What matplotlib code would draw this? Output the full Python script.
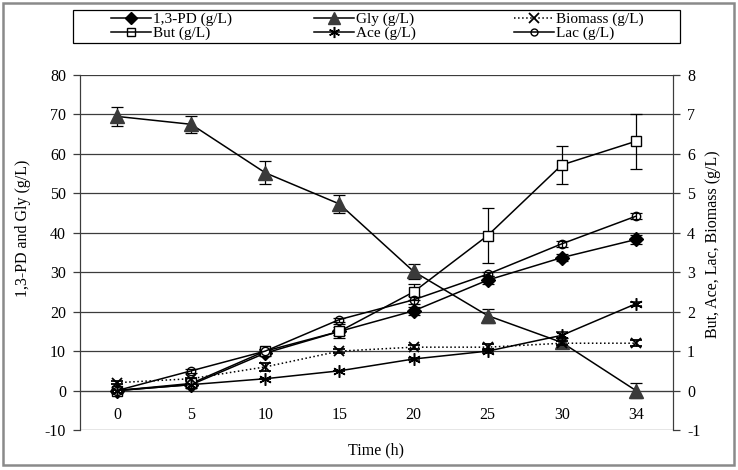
import matplotlib
matplotlib.use("Agg")
import matplotlib.pyplot as plt
from matplotlib.patches import Rectangle
from matplotlib.lines import Line2D
import numpy as np

plt.rcParams['font.family'] = ['Liberation Serif', 'DejaVu Serif']
plt.rcParams['font.size'] = 11.5
plt.rcParams['axes.unicode_minus'] = False

time_labels = ['0', '5', '10', '15', '20', '25', '30', '34']

# left axis (g/L)
pd_vals = [0, 1.5, 9.5, 15, 20.2, 28, 33.7, 38.3]
pd_err = [0.5, 0.8, 0.8, 1.8, 1.0, 1.0, 0.8, 1.2]
gly_vals = [69.5, 67.5, 55.2, 47.3, 30.2, 19.0, 12.2, 0]
gly_err = [2.4, 2.1, 2.9, 2.4, 2.0, 1.8, 1.0, 1.8]

# right axis (g/L)
but_vals = [0, 0.18, 1.0, 1.5, 2.5, 3.93, 5.72, 6.32]
but_err = [0.02, 0.05, 0.05, 0.1, 0.2, 0.69, 0.49, 0.7]
ace_vals = [0, 0.15, 0.3, 0.5, 0.8, 1.0, 1.4, 2.2]
ace_err = [0, 0, 0, 0, 0.03, 0.06, 0.08, 0.05]
lac_vals = [0, 0.5, 1.0, 1.8, 2.3, 2.95, 3.72, 4.42]
lac_err = [0, 0.05, 0.05, 0.05, 0.1, 0.05, 0.08, 0.08]
bio_vals = [0.2, 0.3, 0.6, 1.0, 1.1, 1.1, 1.2, 1.2]
bio_err = [0.03, 0.03, 0.1, 0.05, 0.05, 0.08, 0.05, 0.08]

W, H = 738, 470
fig = plt.figure(figsize=(W / 100, H / 100), dpi=100)
ax = fig.add_axes([80 / W, (H - 430) / H, (673 - 80) / W, (430 - 75) / H])
ax2 = ax.twinx()

x = np.arange(len(time_labels))
ax.set_xlim(-0.5, len(time_labels) - 0.5)
ax.set_ylim(-10, 80)
ax2.set_ylim(-1, 8)
ax.set_yticks(np.arange(-10, 81, 10))
ax2.set_yticks(np.arange(-1, 9, 1))

grid_c = '#3c3c3c'
for v in np.arange(-10, 81, 10):
    ax.axhline(v, color=grid_c, lw=0.9, zorder=0)

for a in (ax, ax2):
    a.spines['top'].set_visible(False)
    a.spines['bottom'].set_visible(False)
    a.spines['left'].set_color(grid_c)
    a.spines['right'].set_color(grid_c)
    a.tick_params(axis='y', direction='out', length=5, width=0.9, color=grid_c)
ax.tick_params(axis='y', pad=5)
ax2.tick_params(axis='y', pad=5)

ax.spines['bottom'].set_visible(True)
ax.spines['bottom'].set_position(('data', 0))
ax.spines['bottom'].set_color(grid_c)
ax.set_xticks(np.arange(-0.5, len(time_labels), 1.0))
ax.set_xticklabels([])
ax.set_xticks(x, minor=True)
ax.set_xticklabels(time_labels, minor=True)
ax.tick_params(axis='x', which='major', direction='out', length=6, width=0.9, color=grid_c)
ax.tick_params(axis='x', which='minor', length=0, pad=12)
ax2.set_xticks([])

eb = dict(ecolor='black', elinewidth=0.9, capsize=4, capthick=0.9, color='black', lw=1.1)

ax.errorbar(x, pd_vals, yerr=pd_err, marker='D', ms=7, mfc='black', mec='black',
            label='1,3-PD (g/L)', zorder=4, **eb)
ax.errorbar(x, gly_vals, yerr=gly_err, marker='^', ms=10, mfc='#3a3a3a', mec='#3a3a3a',
            label='Gly (g/L)', zorder=4, **eb)

ax2.errorbar(x, but_vals, yerr=but_err, marker='s', ms=7, mfc='white', mec='black',
             label='But (g/L)', zorder=4, **eb)
ax2.errorbar(x, ace_vals, yerr=ace_err, marker=(6, 2, 0), ms=9, mec='black', mew=1.1,
             label='Ace (g/L)', zorder=4, **eb)
ax2.errorbar(x, lac_vals, yerr=lac_err, marker='o', ms=6, mfc='none', mec='black',
             label='Lac (g/L)', zorder=4, **eb)
eb_dot = dict(eb)
eb_dot['ls'] = ':'
ax2.errorbar(x, bio_vals, yerr=bio_err, marker='x', ms=7, mec='black', mew=1.3,
             label='Biomass (g/L)', zorder=4, **eb_dot)

fig.text(23 / W, 1 - 228 / H, '1,3-PD and Gly (g/L)', rotation=90, ha='center', va='center')
fig.text(713 / W, 1 - 244 / H, 'But, Ace, Lac, Biomass (g/L)', rotation=90, ha='center', va='center')
fig.text((80 + 673) / 2 / W, 1 - 450 / H, 'Time (h)', ha='center', va='center')


def lh(marker, ms, mfc, mec='black', ls='-', mew=1.0):
    return Line2D([], [], color='black', ls=ls, lw=1.1, marker=marker, ms=ms,
                  mfc=mfc, mec=mec, mew=mew)


# legend: three columns placed at fixed positions, one frame around them
columns = [
    ([lh('D', 6, 'black'), lh('s', 6, 'none')], ['1,3-PD (g/L)', 'But (g/L)'], 111),
    ([lh('^', 8, '#3a3a3a', mec='#3a3a3a'), lh((6, 2, 0), 8, 'black', mew=1.1)],
     ['Gly (g/L)', 'Ace (g/L)'], 314),
    ([lh('x', 7, 'black', ls=':', mew=1.3), lh('o', 5, 'none')],
     ['Biomass (g/L)', 'Lac (g/L)'], 514),
]
for hs, ls_, x0 in columns:
    fig.legend(hs, ls_, loc='center left', bbox_to_anchor=(x0 / W, 1 - 26.5 / H),
               frameon=False, borderpad=0, borderaxespad=0, handlelength=2.6,
               handletextpad=0.15, labelspacing=0.0, fontsize=11)

fig.add_artist(Rectangle((73 / W, 1 - 43 / H), (680 - 73) / W, 33 / H,
                         transform=fig.transFigure, fill=False, ec='black', lw=0.9))
fig.add_artist(Rectangle((2.5 / W, 5 / H), (734 - 2.5) / W, (467 - 5) / H,
                         transform=fig.transFigure, fill=False, ec='#8a8a8a', lw=1.8))

fig.savefig('out.png', dpi=100)
